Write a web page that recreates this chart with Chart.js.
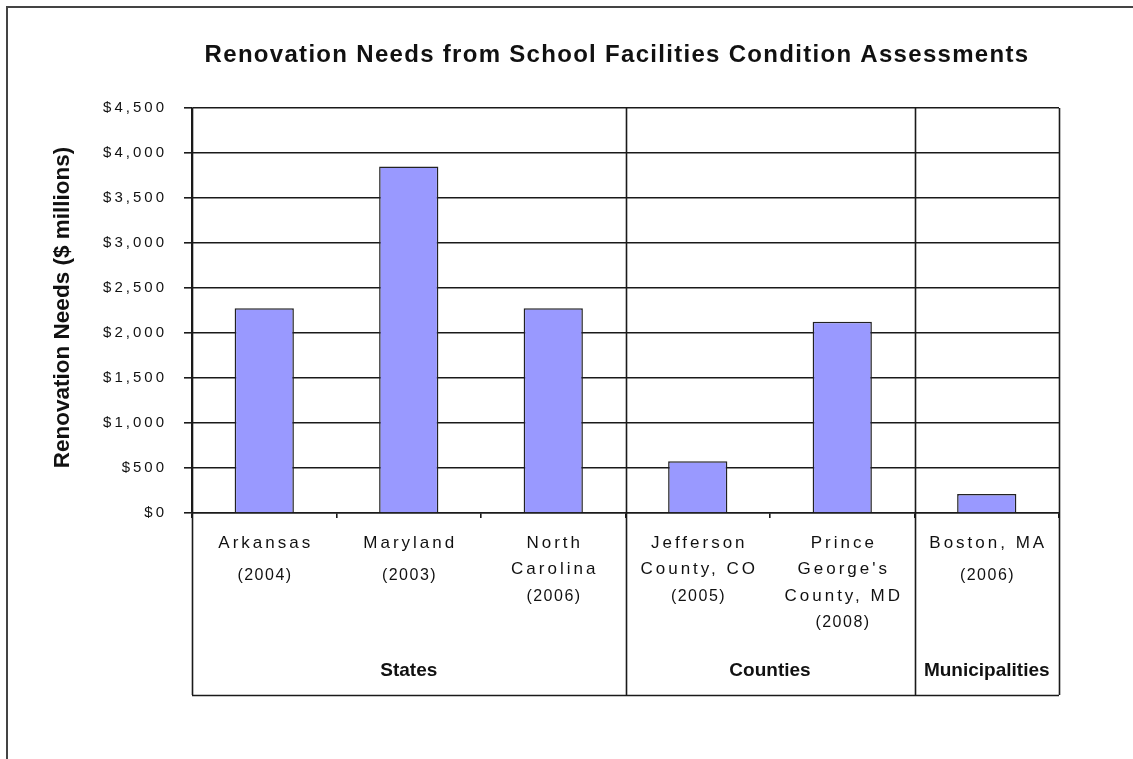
<!DOCTYPE html>
<html>
<head>
<meta charset="utf-8">
<script src="https://cdn.jsdelivr.net/npm/chart.js@4.4.0/dist/chart.umd.min.js"></script>
<style>
  body { margin: 0; background: #fff; }
  canvas { display: block; }
</style>
</head>
<body>
<canvas id="needsChart" width="1133" height="759"></canvas>
<script>
const chartTitle = 'Renovation Needs from School Facilities Condition Assessments';
const yTitle = 'Renovation Needs ($ millions)';

const categoryLabels = [
  ['Arkansas', '(2004)'],
  ['Maryland', '(2003)'],
  ['North', 'Carolina', '(2006)'],
  ['Jefferson', 'County, CO', '(2005)'],
  ['Prince', "George's", 'County, MD', '(2008)'],
  ['Boston, MA', '(2006)']
];
const renovationNeeds = [2275, 3850, 2275, 575, 2125, 210];

const groupNames = ['States', 'Counties', 'Municipalities'];
const groupSizes = [3, 2, 1];

const yMax = 4500;
const yStep = 500;

const LINE = '#1a1a1a';
const BOX_BOTTOM = 695;

// left edge of category i (i == count gives the right edge)
function edgeOf(scale, area, i) {
  const n = scale.getLabels().length;
  if (i <= 0) return area.left;
  if (i >= n) return area.right;
  return (scale.getPixelForValue(i - 1) + scale.getPixelForValue(i)) / 2;
}

const decorations = {
  id: 'decorations',
  beforeDraw(chart) {
    const ctx = chart.ctx;
    ctx.save();
    ctx.strokeStyle = '#444';
    ctx.lineWidth = 2;
    ctx.beginPath();
    ctx.moveTo(7, chart.height);
    ctx.lineTo(7, 7);
    ctx.lineTo(chart.width, 7);
    ctx.stroke();
    ctx.restore();
    // axis tick text is drawn spaced out
    ctx.letterSpacing = '3px';
  },
  afterDraw(chart) {
    const ctx = chart.ctx;
    const area = chart.chartArea;
    const xs = chart.scales.x;
    ctx.save();

    // group separators and the label box
    ctx.strokeStyle = LINE;
    ctx.lineWidth = 1.6;
    let idx = 0;
    const bounds = [0];
    groupSizes.forEach(s => { idx += s; bounds.push(idx); });
    ctx.beginPath();
    bounds.forEach(b => {
      const x = Math.round(edgeOf(xs, area, b)) + 0.5;
      ctx.moveTo(x, area.top);
      ctx.lineTo(x, BOX_BOTTOM);
    });
    ctx.moveTo(area.left, BOX_BOTTOM + 0.5);
    ctx.lineTo(area.right, BOX_BOTTOM + 0.5);
    ctx.stroke();

    // category labels: names spaced wide, years tighter
    ctx.fillStyle = '#111';
    ctx.textAlign = 'center';
    ctx.textBaseline = 'alphabetic';
    xs.getLabels().forEach((lines, i) => {
      const x = xs.getPixelForValue(i);
      const gap = lines.length === 2 ? 32 : 26.3;
      lines.forEach((t, k) => {
        const isYear = t.startsWith('(');
        ctx.font = (isYear ? '16px' : '17px') + ' "Liberation Sans", Arial, sans-serif';
        ctx.letterSpacing = isYear ? '1.5px' : '3px';
        ctx.fillText(t, x + (isYear ? 0.75 : 1.5), 548 + k * gap);
      });
    });

    // group names
    ctx.font = 'bold 19px "Liberation Sans", Arial, sans-serif';
    ctx.letterSpacing = '0px';
    groupNames.forEach((name, g) => {
      const x = (edgeOf(xs, area, bounds[g]) + edgeOf(xs, area, bounds[g + 1])) / 2;
      ctx.fillText(name, x, 676);
    });

    // chart title
    ctx.font = 'bold 24px "Liberation Sans", Arial, sans-serif';
    ctx.letterSpacing = '1.3px';
    ctx.fillText(chartTitle, 617, 62);

    // y-axis title
    ctx.translate(63, (area.top + area.bottom) / 2 - 3);
    ctx.rotate(-Math.PI / 2);
    ctx.textBaseline = 'middle';
    ctx.font = 'bold 22.5px "Liberation Sans", Arial, sans-serif';
    ctx.letterSpacing = '0px';
    ctx.fillText(yTitle, 0, 0);
    ctx.restore();
  }
};

new Chart(document.getElementById('needsChart'), {
  type: 'bar',
  data: {
    labels: categoryLabels,
    datasets: [{
      data: renovationNeeds,
      backgroundColor: '#9999FF',
      borderColor: '#222',
      borderWidth: 1.5,
      barPercentage: 0.41,
      categoryPercentage: 1.0
    }]
  },
  options: {
    responsive: false,
    animation: false,
    layout: { padding: { left: 0, top: 108, right: 74, bottom: 246 } },
    plugins: {
      legend: { display: false },
      tooltip: { enabled: false },
      title: { display: false }
    },
    scales: {
      x: {
        offset: true,
        ticks: { display: false },
        grid: {
          offset: true,
          drawOnChartArea: false,
          tickLength: 5,
          color: LINE,
          lineWidth: 1.6
        },
        border: { display: true, color: LINE, width: 1.6 },
        afterFit(scale) { scale.height = 0; }
      },
      y: {
        min: 0,
        max: yMax,
        ticks: {
          stepSize: yStep,
          padding: 17,
          color: '#111',
          font: { family: '"Liberation Sans", Arial, sans-serif', size: 15 },
          callback: v => '$' + v.toLocaleString('en-US')
        },
        grid: { color: LINE, lineWidth: 1.6, tickLength: 8 },
        border: { display: true, color: LINE, width: 1.6 },
        afterFit(scale) { scale.width = 192; }
      }
    }
  },
  plugins: [decorations]
});
</script>
</body>
</html>
